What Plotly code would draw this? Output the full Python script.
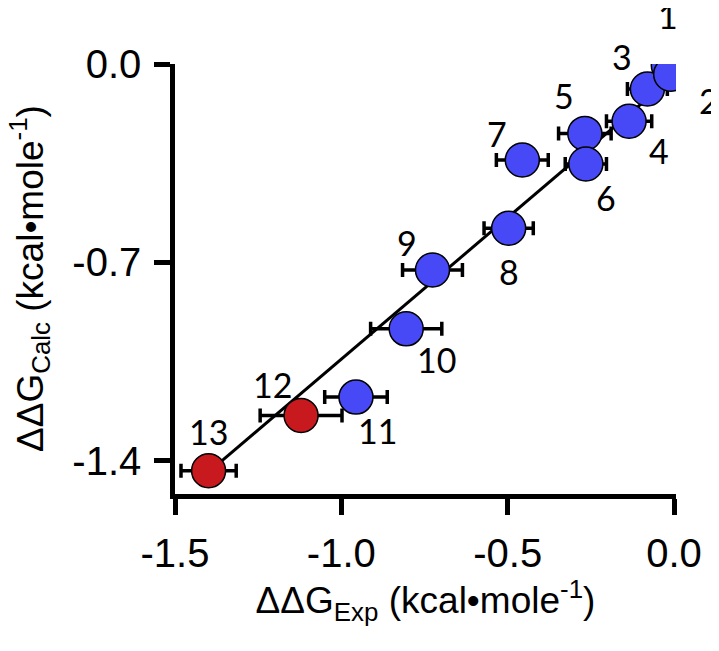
import plotly.graph_objects as go

# ---- data ----
labels = ["1", "2", "3", "4", "5", "6", "7", "8", "9", "10", "11", "12", "13"]
dg_exp = [-0.017, -0.010, -0.080, -0.135, -0.268, -0.265, -0.456, -0.497,
          -0.726, -0.805, -0.956, -1.121, -1.399]
dg_calc = [-0.005, -0.036, -0.088, -0.202, -0.245, -0.353, -0.339, -0.580,
           -0.727, -0.935, -1.176, -1.241, -1.436]
err_exp = [0.03, 0.03, 0.06, 0.068, 0.079, 0.062, 0.078, 0.074,
           0.09, 0.107, 0.094, 0.123, 0.083]
group = ["blue"] * 11 + ["red"] * 2

fit_x = [-1.40, -0.02]
fit_y = [-1.442, -0.062]

x_ticks = [-1.5, -1.0, -0.5, 0.0]
y_ticks = [0.0, -0.7, -1.4]

x_title = "ΔΔG<sub>Exp</sub> (kcal•mole<sup>-1</sup>)"
y_title = "ΔΔG<sub>Calc</sub> (kcal•mole<sup>-1</sup>)"

# ---- styling ----
colors = {"blue": "#4649F5", "red": "#C8191E"}
draw_order = [0, 2, 1, 3, 4, 5, 6, 7, 8, 9, 10, 11, 12]
label_offsets = {  # (dx, dy) in pixels, screen coords (dy down)
    "1": (0, -50), "2": (38, 26), "3": (-25, -32), "4": (30, 29),
    "5": (-21, -38), "6": (20, 34), "7": (-25, -27), "8": (0, 43),
    "9": (-25, -27), "10": (30, 31), "11": (22, 33), "12": (-29, -31),
    "13": (0, -39),
}
title_font = dict(family="Liberation Sans, Arial", size=37, color="black")

fig = go.Figure()

fig.add_trace(go.Scatter(
    x=fit_x, y=fit_y, mode="lines",
    line=dict(color="black", width=3), hoverinfo="skip", showlegend=False))

fig.add_trace(go.Scatter(
    x=[dg_exp[i] for i in draw_order],
    y=[dg_calc[i] for i in draw_order],
    mode="markers",
    marker=dict(size=34, color=[colors[group[i]] for i in draw_order],
                line=dict(color="black", width=1.5)),
    error_x=dict(type="data", array=[err_exp[i] for i in draw_order],
                 color="black", thickness=3.5, width=7),
    showlegend=False))

for lab, xv, yv in zip(labels, dg_exp, dg_calc):
    dx, dy = label_offsets[lab]
    fig.add_annotation(x=xv, y=yv, text=lab, showarrow=False,
                       xshift=dx, yshift=-dy,
                       font=dict(family="Lato", size=34, color="black"))

# y-axis title (as rotated annotation so it can sit close to the page edge)
fig.add_annotation(x=0, y=0.5, xref="paper", yref="paper", text=y_title,
                   textangle=-90, showarrow=False, xanchor="center",
                   yanchor="middle", xshift=-146, font=title_font)

axis_common = dict(
    showline=True, linecolor="black", linewidth=4.5,
    ticks="outside", ticklen=16, tickwidth=4.5, tickcolor="black",
    showgrid=False, zeroline=False, automargin=False,
    tickfont=dict(family="Liberation Sans, Arial", size=40, color="black"),
)

fig.update_xaxes(
    range=[-1.5, 0.006], tickvals=x_ticks,
    ticktext=[f"{v:.1f}" for v in x_ticks],
    ticklabelstandoff=4,
    title=dict(text=x_title, font=title_font, standoff=0),
    **axis_common)
fig.update_yaxes(
    range=[-1.518, 0.0], tickvals=y_ticks,
    ticktext=[f"{v:.1f}" for v in y_ticks],
    ticklabelstandoff=5,
    **axis_common)

# page body has an 8px default margin; margins compensate for it
fig.update_layout(
    width=719, height=651,
    margin=dict(l=167, r=51, t=56, b=165),
    plot_bgcolor="white", paper_bgcolor="white",
)

fig.write_html("out.html")
